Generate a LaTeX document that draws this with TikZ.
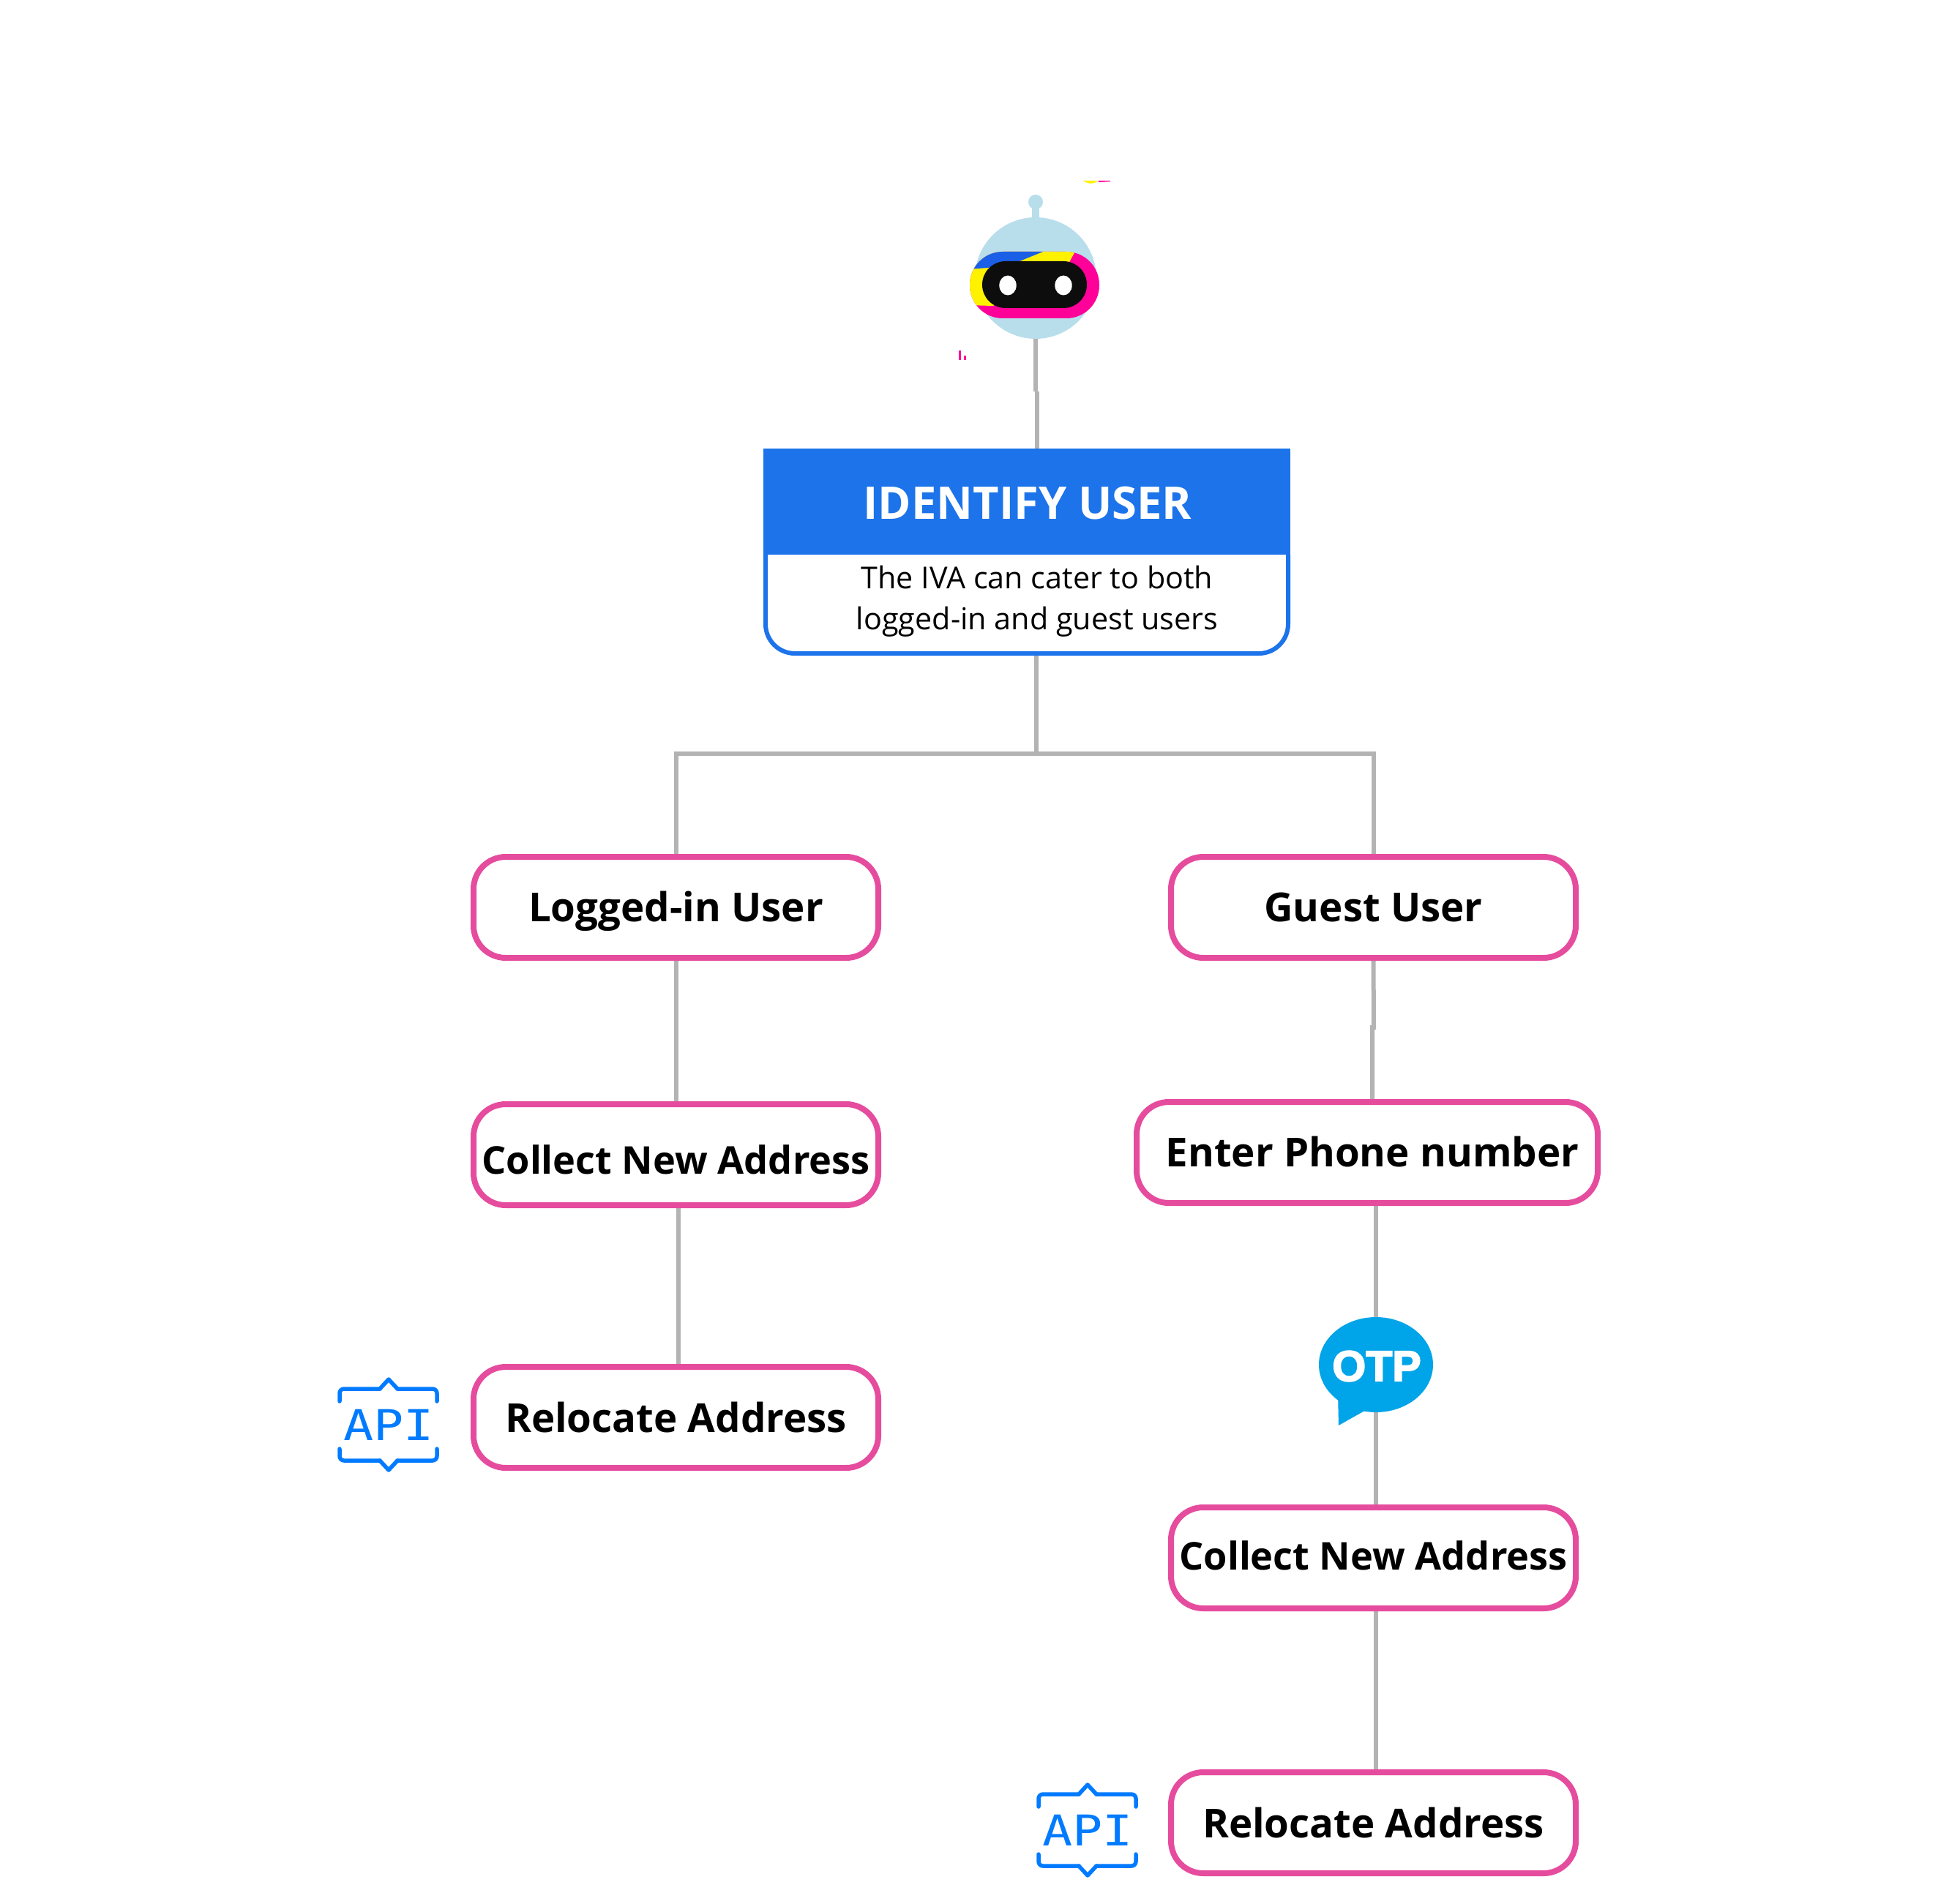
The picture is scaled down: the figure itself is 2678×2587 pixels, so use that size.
\documentclass[tikz,border=0pt]{standalone}
\usepackage{fontspec}
\setmainfont{Open Sans}
\newfontfamily\monoapi{DejaVu Sans Mono}
\newfontfamily\otpfont[BoldFont={Liberation Sans Bold},BoldFeatures={FakeBold=3}]{Liberation Sans}
\usetikzlibrary{shapes.geometric,backgrounds}
\definecolor{pinkline}{HTML}{E64C9E}
\definecolor{bluehead}{HTML}{1C73EA}
\definecolor{greyline}{HTML}{B3B3B3}
\definecolor{headblue}{HTML}{B8DEEB}
\definecolor{magentaband}{HTML}{FF0099}
\definecolor{bandblue}{HTML}{1A5FE6}
\definecolor{apiblue}{HTML}{007BFF}
\definecolor{otpblue}{HTML}{00A4E8}
\newcommand{\apimark}[2]{%
  \begin{scope}[shift={(#1)}]
    \draw[apistroke,rounded corners=6pt] (-67,-32) -- (-67,-49) -- (-12,-49);
    \draw[apistroke] (-12,-49) -- (0,-62) -- (12,-49);
    \draw[apistroke,rounded corners=6pt] (12,-49) -- (66,-49) -- (66,-32);
    \draw[apistroke,rounded corners=6pt] (-67,33) -- (-67,49) -- (-12,49);
    \draw[apistroke] (-12,49) -- (0,62) -- (12,49);
    \draw[apistroke,rounded corners=6pt] (12,49) -- (66,49) -- (66,33);
    \node[apitext] (#2) at (0,0) {API};
  \end{scope}}
\tikzset{
  x=1pt,y=-1pt,
  conn/.style={draw=greyline,line width=6pt},
  stepbox/.style={draw=pinkline,fill=white,line width=8pt,rounded corners=44pt,inner sep=0pt,outer sep=0pt,minimum height=138pt,text height=45pt,text depth=6pt,font=\fontsize{54.6}{60}\selectfont\bfseries,text=black},
  apistroke/.style={draw=apiblue,line width=5.5pt,line cap=round,line join=round},
  apitext/.style={inner sep=0pt,text=apiblue,font=\fontsize{58}{60}\monoapi,xscale=1.18},
}
\begin{document}
\begin{tikzpicture}
\useasboundingbox (0,0) rectangle (2678,2587);
% robot
\node[circle,fill=headblue,minimum size=166pt,inner sep=0pt,outer sep=0pt] (head) at (1415,380) {};
\node[circle,fill=headblue,minimum size=20pt,inner sep=0pt] (ball) at (1415,276) {};
\draw[headblue,line width=10pt] (ball.center) -- (head.north);
\begin{scope}
  \clip[rounded corners=45pt] (1325,344) rectangle (1502,435);
  \fill[magentaband] (1320,340) rectangle (1510,440);
  \fill[yellow] (1471,340) -- (1460,360) -- (1400,380) -- (1357,418) -- (1320,417) -- (1320,340) -- cycle;
  \fill[bandblue] (1320,340) -- (1427,340) -- (1425,344) -- (1393,357) -- (1350,366) -- (1320,368) -- cycle;
\end{scope}
\fill[black!95,rounded corners=32pt] (1342,357) rectangle (1485,421);
\fill[white] (1377,390) ellipse[x radius=11.7,y radius=13.5];
\fill[white] (1453,390) ellipse[x radius=11.7,y radius=13.5];
\fill[yellow] (1480,247) -- (1500,247) .. controls (1495,252) and (1487,252) .. cycle;
\fill[magentaband] (1500,247) -- (1517,247) -- (1517,248) -- (1502,249) -- cycle;
\fill[magentaband] (1310,479) rectangle (1313,492);
\fill[magentaband] (1317,486) rectangle (1319.5,492);
% identify box
\node[fill=bluehead,minimum width=720pt,minimum height=145pt,inner sep=0pt,outer sep=0pt,anchor=north west] (idhead) at (1043,613) {};
\node[text=white,font=\fontsize{61.4}{66}\selectfont\bfseries,inner sep=0pt] (idtitle) at (1404,688) {IDENTIFY USER};
\draw[bluehead,line width=6pt,fill=white,rounded corners=40pt] (1046,758) -- (1046,893) -- (1760,893) -- (1760,758);
\fill[bluehead] (1043,752) rectangle (1763,758);
\coordinate (idbottom) at (1416,893);
\node[align=center,font=\fontsize{41.3}{56}\selectfont,inner sep=0pt] (idbody) at (1417,822) {The IVA can cater to both\\logged-in and guest users};
% step nodes
\node[stepbox,minimum width=553pt] (logged) at (923.5,1240) {Logged-in User};
\node[stepbox,minimum width=553pt] (guest) at (1876.5,1240) {Guest User};
\node[stepbox,minimum width=553pt,text height=59pt,font=\fontsize{52.3}{60}\selectfont\bfseries] (collectL) at (923.5,1578) {Collect New Address};
\node[stepbox,minimum width=630pt] (enter) at (1868,1575) {\hspace*{14pt}Enter Phone number};
\node[stepbox,minimum width=553pt,text height=47pt] (relocL) at (923.5,1937) {Relocate Address};
\node[stepbox,minimum width=553pt,text height=39pt,font=\fontsize{52.3}{60}\selectfont\bfseries] (collectR) at (1876.5,2129) {Collect New Address};
\node[stepbox,minimum width=553pt,text height=47pt] (relocR) at (1876.5,2491) {Relocate Address};
% OTP
\fill[otpblue] (1828,1905) -- (1829,1948) -- (1868,1926) -- cycle;
\node[ellipse,fill=otpblue,minimum width=156pt,minimum height=130pt,inner sep=0pt,outer sep=0pt] (otp) at (1880,1865) {};
\node[inner sep=0pt,text=white,font=\fontsize{59}{60}\otpfont\bfseries] (otptext) at (1881,1867) {OTP};
% API
\apimark{531,1947}{apiL}
\apimark{1486,2501}{apiR}
% connectors
\begin{scope}[on background layer]
\coordinate (bus) at (1416,1030);
\coordinate (gbend) at (1877,1404);
\coordinate (rbend) at (1417,535);
\draw[conn] (head.south) -- (rbend -| head.south);
\draw[conn] (rbend) -- (rbend |- idhead.north);
\draw[conn] (idbottom) -- (bus);
\draw[conn] (logged.north) |- (bus) -| (guest.north);
\draw[conn] (logged.south) -- (collectL.north);
\draw[conn] (927,1650) -- (927,1866);
\draw[conn] (guest.south) -- (gbend) -- ++(-2,0) -- (1875,1503);
\draw[conn] (otp.north |- enter.south) -- (otp.north);
\draw[conn] (otp.south) -- (otp.south |- collectR.north);
\draw[conn] (otp.south |- collectR.south) -- (otp.south |- relocR.north);
\end{scope}
\end{tikzpicture}
\end{document}
